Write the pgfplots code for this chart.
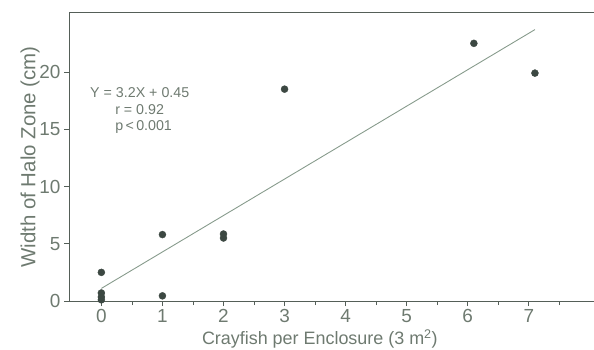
\documentclass[border=0pt]{standalone}
\usepackage{pgfplots}
\pgfplotsset{compat=1.18}
\usepackage{fontspec}
\setmainfont{Liberation Sans}
\definecolor{txtc}{RGB}{110,122,112}
\definecolor{axc}{RGB}{85,95,88}
\definecolor{ptc}{RGB}{60,72,66}
\definecolor{lnc}{RGB}{135,155,140}
\begin{document}
\begin{tikzpicture}
\path[use as bounding box] (0,0) rectangle (594bp,350bp);
\begin{axis}[
  at={(69bp,49bp)}, anchor=south west,
  scale only axis, width=527bp, height=288bp,
  xmin=-0.53, xmax=8.1, ymin=0, ymax=25.15,
  xtick={0,...,7}, minor xtick={0.5,1.5,...,7.5},
  ytick={0,5,10,15,20},
  tick align=outside, major tick length=5bp, minor tick length=4bp,
  xtick pos=bottom, ytick pos=left,
  axis line style={axc, line width=1pt},
  every tick/.style={axc, line width=0.8pt},
  minor tick style={axc, line width=0.8pt},
  tick label style={font=\fontsize{19}{21}\selectfont, text=txtc},
  /pgf/number format/assume math mode=true,
  xlabel={Crayfish per Enclosure (3 m\textsuperscript{2})},
  ylabel={Width of Halo Zone (cm)},
  xlabel style={font=\fontsize{18}{20}\selectfont, text=txtc, at={(axis description cs:0.476,0)}, anchor=base, yshift=-43.5bp},
  ylabel style={font=\fontsize{20.5}{22}\selectfont, text=txtc, at={(axis description cs:0,0.5)}, anchor=south, yshift=26bp},
  clip=false,
]
\addplot[lnc, line width=0.9pt] coordinates {(0,1.1) (7.1,23.7)};
\addplot[only marks, mark=*, mark size=3.5bp, ptc, mark options={fill=ptc, draw=ptc}] coordinates {
 (0,2.5) (0,0.7) (0,0.35) (0,0.1)
 (1,5.8) (1,0.45)
 (2,5.85) (2,5.5)
 (3,18.5)
 (6.1,22.5)
 (7.1,19.9)
};
\node[anchor=west, text=txtc, font=\fontsize{14.3}{16}\selectfont] at (axis cs:-0.24,18.2) {Y = 3.2X + 0.45};
\node[anchor=west, text=txtc, font=\fontsize{14.3}{16}\selectfont] at (axis cs:0.17,16.7) {r = 0.92};
\node[anchor=west, text=txtc, font=\fontsize{14.3}{16}\selectfont] at (axis cs:0.17,15.2) {p\,<\,0.001};
\end{axis}
\end{tikzpicture}
\end{document}
